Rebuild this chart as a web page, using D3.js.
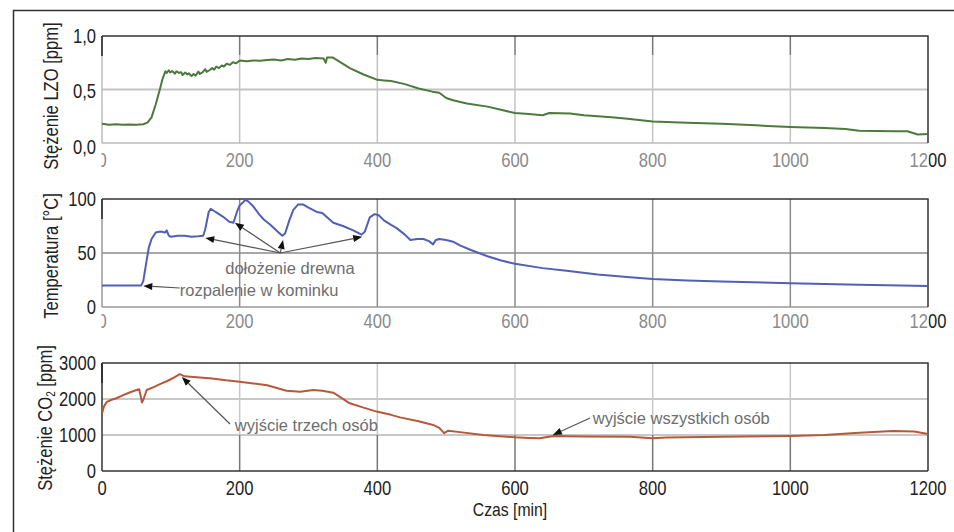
<!DOCTYPE html>
<html>

<head>
    <meta charset="utf-8">
    <title>LZO, temperatura, CO2</title>
    <script src="https://cdn.jsdelivr.net/npm/d3@7"></script>
    <style>
        body { margin: 0; background: #fff; }
        text { font-family: 'Liberation Sans', Arial, sans-serif; }
    </style>
</head>

<body>
    <svg id="chart" width="954" height="532"></svg>

    <script>
        // czas [min] + wartosci
        var lzoTime = [0, 10, 20, 30, 40, 50, 60, 66, 72, 78, 84, 88, 92, 94, 97, 99, 102, 106, 108, 112, 115, 117, 121, 124, 126, 130, 133, 136, 140, 142, 146, 150, 152, 156, 160, 163, 166, 170, 174, 177, 181, 186, 190, 195, 200, 210, 220, 230, 240, 250, 260, 270, 280, 290, 300, 310, 322, 325, 327, 335, 345, 360, 380, 400, 410, 420, 440, 460, 480, 490, 500, 510, 530, 560, 600, 620, 640, 650, 680, 700, 740, 760, 800, 850, 900, 950, 1000, 1050, 1080, 1100, 1150, 1170, 1185, 1200];
        var lzoValue = [0.18, 0.17, 0.175, 0.17, 0.172, 0.17, 0.175, 0.19, 0.24, 0.36, 0.50, 0.60, 0.67, 0.655, 0.68, 0.66, 0.672, 0.648, 0.67, 0.655, 0.662, 0.635, 0.658, 0.64, 0.652, 0.625, 0.645, 0.63, 0.668, 0.645, 0.66, 0.69, 0.665, 0.68, 0.70, 0.685, 0.715, 0.70, 0.725, 0.715, 0.74, 0.73, 0.755, 0.745, 0.77, 0.765, 0.772, 0.768, 0.775, 0.78, 0.772, 0.785, 0.778, 0.79, 0.785, 0.795, 0.79, 0.75, 0.80, 0.80, 0.76, 0.70, 0.64, 0.59, 0.585, 0.58, 0.55, 0.51, 0.48, 0.47, 0.42, 0.40, 0.37, 0.34, 0.28, 0.27, 0.26, 0.28, 0.275, 0.26, 0.24, 0.23, 0.20, 0.19, 0.18, 0.165, 0.15, 0.14, 0.13, 0.115, 0.11, 0.11, 0.08, 0.085];

        var tempTime = [0, 57, 60, 64, 68, 72, 78, 85, 92, 94, 97, 100, 110, 120, 130, 140, 147, 150, 155, 158, 165, 175, 185, 191, 196, 200, 205, 208, 212, 220, 228, 235, 245, 255, 262, 266, 272, 278, 285, 292, 300, 312, 320, 336, 350, 365, 377, 382, 389, 396, 402, 410, 420, 428, 440, 448, 458, 467, 475, 481, 485, 490, 500, 510, 520, 535, 560, 580, 600, 640, 675, 720, 767, 800, 850, 900, 1000, 1100, 1200];
        var tempValue = [20, 20, 24, 40, 55, 63, 69, 70, 69, 71, 66, 65, 66, 66, 65, 65.5, 66, 72, 88, 91, 88, 84, 79, 78, 88, 94, 97, 99, 98, 93, 86, 81, 76, 70, 66, 68, 80, 90, 95, 95, 92, 88, 87, 78, 75, 71, 67, 70, 83, 86, 85, 80, 76, 73, 67, 62, 63, 63, 61, 58, 62, 63, 62, 60.5, 57, 53, 47, 43, 40, 36, 33.5, 30, 27.5, 26, 24.5, 23.5, 22, 20.5, 19.5];

        var co2Time = [0, 3, 7, 14, 21, 30, 40, 50, 54, 56, 58, 60, 65, 75, 85, 95, 105, 113, 120, 142, 160, 180, 200, 220, 240, 268, 288, 307, 320, 336, 360, 380, 399, 420, 433, 460, 481, 490, 497, 503, 520, 554, 600, 620, 636, 656, 700, 767, 800, 820, 900, 1000, 1050, 1100, 1149, 1180, 1200];
        var co2Value = [1600, 1800, 1920, 1980, 2020, 2100, 2180, 2250, 2270, 2100, 1900, 1980, 2250, 2330, 2420, 2500, 2600, 2690, 2630, 2600, 2570, 2520, 2480, 2430, 2380, 2230, 2200, 2250, 2230, 2176, 1880, 1760, 1650, 1560, 1490, 1380, 1280, 1200, 1050, 1120, 1080, 1000, 935, 920, 907, 970, 960, 954, 910, 930, 950, 972, 1000, 1060, 1110, 1100, 1030];

        var xTicks = [0, 200, 400, 600, 800, 1000, 1200];
        var lzoTicks = [0, 0.5, 1.0];
        var lzoTickLabels = ["0,0", "0,5", "1,0"];
        var tempTicks = [0, 50, 100];
        var co2Ticks = [0, 1000, 2000, 3000];

        // adnotacje w jednostkach danych: [czas, wartosc]
        var tempNotes = [
            { text: "dołożenie drewna", at: [273, 30.5], anchor: "middle", from: [259, 50], to: [[150, 64], [193, 78], [263, 62], [378, 65]] },
            { text: "rozpalenie w kominku", at: [113, 10.5], anchor: "start", from: [113, 17.6], to: [[60, 19.5]] }
        ];
        var co2Notes = [
            { text: "wyjście trzech osób", at: [193, 1100], anchor: "start", from: [186, 1306], to: [[116, 2611]] },
            { text: "wyjście wszystkich osób", at: [713, 1300], anchor: "start", from: [709, 1472], to: [[655, 1000]] }
        ];

        var svg = d3.select('#chart');
        var left = 102, right = 928;
        var narrow = 0.83;

        var xScale = d3.scaleLinear().domain([0, 1200]).range([left, right]);

        // waski tekst: Liberation Sans sciesniony w poziomie
        function ntext(parent, x, y, rot) {
            return parent.append("text")
                .attr("transform", "translate(" + x + "," + y + ")" + (rot ? " rotate(" + rot + ")" : "") + " scale(" + narrow + ",1)");
        }

        // ramka
        svg.append("path").attr("d", "M13.5,532 V10.5 H954")
            .attr("fill", "none").attr("stroke", "#333").attr("stroke-width", 1.5);

        var defs = svg.append("defs");
        defs.append("clipPath").attr("id", "grayClip").append("rect")
            .attr("x", left - 0.5).attr("y", 0).attr("width", right - left + 1.5).attr("height", 532);
        defs.append("clipPath").attr("id", "blackClip").append("rect")
            .attr("x", right + 1).attr("y", 0).attr("width", 30).attr("height", 532);

        function panel(opt) {
            var y = d3.scaleLinear().domain(opt.domain).range([opt.bottom, opt.top]);
            var g = svg.append("g");

            // siatka pozioma
            g.selectAll(".hgrid").data(opt.ticks.slice(1, -1)).enter().append("line")
                .attr("x1", left).attr("x2", right)
                .attr("y1", function (d) { return y(d); }).attr("y2", function (d) { return y(d); })
                .attr("stroke", opt.hgrid).attr("stroke-width", 2);

            // siatka pionowa
            xTicks.slice(1, -1).forEach(function (t) {
                opt.vgrid.forEach(function (seg) {
                    g.append("line")
                        .attr("x1", xScale(t)).attr("x2", xScale(t))
                        .attr("y1", y(seg[0])).attr("y2", y(seg[1]))
                        .attr("stroke", seg[2]).attr("stroke-width", 1.5);
                });
            });

            // ramka wykresu
            g.append("line").attr("x1", left).attr("x2", right).attr("y1", opt.bottom).attr("y2", opt.bottom)
                .attr("stroke", opt.axisColor).attr("stroke-width", 1.5);
            g.append("line").attr("x1", left).attr("x2", left).attr("y1", opt.top).attr("y2", opt.bottom)
                .attr("stroke", opt.axisColor).attr("stroke-width", 1.5);
            g.append("line").attr("x1", left).attr("x2", left).attr("y1", opt.top).attr("y2", opt.top + 20)
                .attr("stroke", "#222").attr("stroke-width", 1.5);
            g.append("path").attr("d", "M" + left + "," + opt.top + " H" + right + " V" + opt.bottom)
                .attr("fill", "none").attr("stroke", "#333").attr("stroke-width", 1.5);

            // linia danych
            var pts = opt.time.map(function (t, i) { return [t, opt.values[i]]; });
            g.append("path").datum(pts)
                .attr("fill", "none").attr("stroke", opt.color).attr("stroke-width", 2)
                .attr("stroke-linejoin", "round")
                .attr("d", d3.line().x(function (d) { return xScale(d[0]); }).y(function (d) { return y(d[1]); }));

            // etykiety osi Y
            var ly = opt.labelScale || y;
            opt.ticks.forEach(function (d, i) {
                ntext(g, 96, ly(d))
                    .attr("dy", "0.36em").attr("text-anchor", "end")
                    .attr("font-size", 20).attr("fill", "#222")
                    .text(opt.tickLabels ? opt.tickLabels[i] : d);
            });

            // etykiety osi X
            var xl = g.append("g").attr("clip-path", opt.grayX ? "url(#grayClip)" : null);
            xTicks.forEach(function (d) {
                ntext(xl, xScale(d), opt.xBase)
                    .attr("text-anchor", "middle").attr("font-size", 20)
                    .attr("fill", opt.grayX ? "#8a8a8a" : "#222")
                    .text(d);
            });
            if (opt.grayX) {
                ntext(g.append("g").attr("clip-path", "url(#blackClip)"), xScale(1200), opt.xBase)
                    .attr("text-anchor", "middle").attr("font-size", 20).attr("fill", "#222")
                    .text(1200);
            }

            // tytul osi Y
            var title = ntext(g, opt.titleX, opt.titleY, -90)
                .attr("text-anchor", "middle").attr("dy", "0.35em")
                .attr("font-size", 20).attr("fill", "#222");
            opt.title.forEach(function (part) {
                var ts = title.append("tspan").text(part[0]);
                if (part[1]) ts.attr("font-size", 12).attr("dy", 3);
                else if (part[2]) ts.attr("dy", -3);
            });

            // adnotacje
            (opt.notes || []).forEach(function (n) {
                n.to.forEach(function (p) {
                    var x0 = xScale(n.from[0]), y0 = y(n.from[1]);
                    var x1 = xScale(p[0]), y1 = y(p[1]);
                    var a = Math.atan2(y1 - y0, x1 - x0);
                    var L = 9, W = 3.5;
                    var bx = x1 - L * Math.cos(a), by = y1 - L * Math.sin(a);
                    g.append("line").attr("x1", x0).attr("y1", y0).attr("x2", bx).attr("y2", by)
                        .attr("stroke", "#555").attr("stroke-width", 1.2);
                    g.append("path")
                        .attr("d", "M" + x1 + "," + y1 +
                            " L" + (bx + W * Math.sin(a)) + "," + (by - W * Math.cos(a)) +
                            " L" + (bx - W * Math.sin(a)) + "," + (by + W * Math.cos(a)) + "Z")
                        .attr("fill", "#111");
                });
                g.append("text")
                    .attr("x", xScale(n.at[0])).attr("y", y(n.at[1]))
                    .attr("text-anchor", n.anchor).attr("font-size", 16.5).attr("fill", "#6e6e6e")
                    .text(n.text);
            });
        }

        panel({
            top: 36, bottom: 143, domain: [0, 1], ticks: lzoTicks, tickLabels: lzoTickLabels,
            labelScale: d3.scaleLinear().domain([0, 1]).range([146.5, 35.5]),
            time: lzoTime, values: lzoValue, color: "#4b7a3c",
            hgrid: "#c4c4c4", axisColor: "#bbb",
            vgrid: [[0.82, 1, "#777"], [0, 0.82, "#c4c4c4"]],
            grayX: true, xBase: 167,
            title: [["Stężenie LZO [ppm]"]], titleX: 51, titleY: 96
        });

        panel({
            top: 199, bottom: 307, domain: [0, 100], ticks: tempTicks,
            time: tempTime, values: tempValue, color: "#5160b4",
            hgrid: "#a8a8a8", axisColor: "#999",
            vgrid: [[0, 100, "#8c8c8c"]],
            grayX: true, xBase: 328,
            title: [["Temperatura [°C]"]], titleX: 51, titleY: 256,
            notes: tempNotes
        });

        panel({
            top: 363, bottom: 471, domain: [0, 3000], ticks: co2Ticks,
            time: co2Time, values: co2Value, color: "#b5593b",
            hgrid: "#c8c8c8", axisColor: "#333",
            vgrid: [[1000, 3000, "#c8c8c8"], [0, 1000, "#777"]],
            grayX: false, xBase: 495,
            title: [["Stężenie CO"], ["2", true], [" [ppm]", false, true]], titleX: 45, titleY: 418,
            notes: co2Notes
        });

        ntext(svg, 510, 516)
            .attr("text-anchor", "middle").attr("font-size", 19).attr("fill", "#222")
            .text("Czas [min]");
    </script>
</body>

</html>
